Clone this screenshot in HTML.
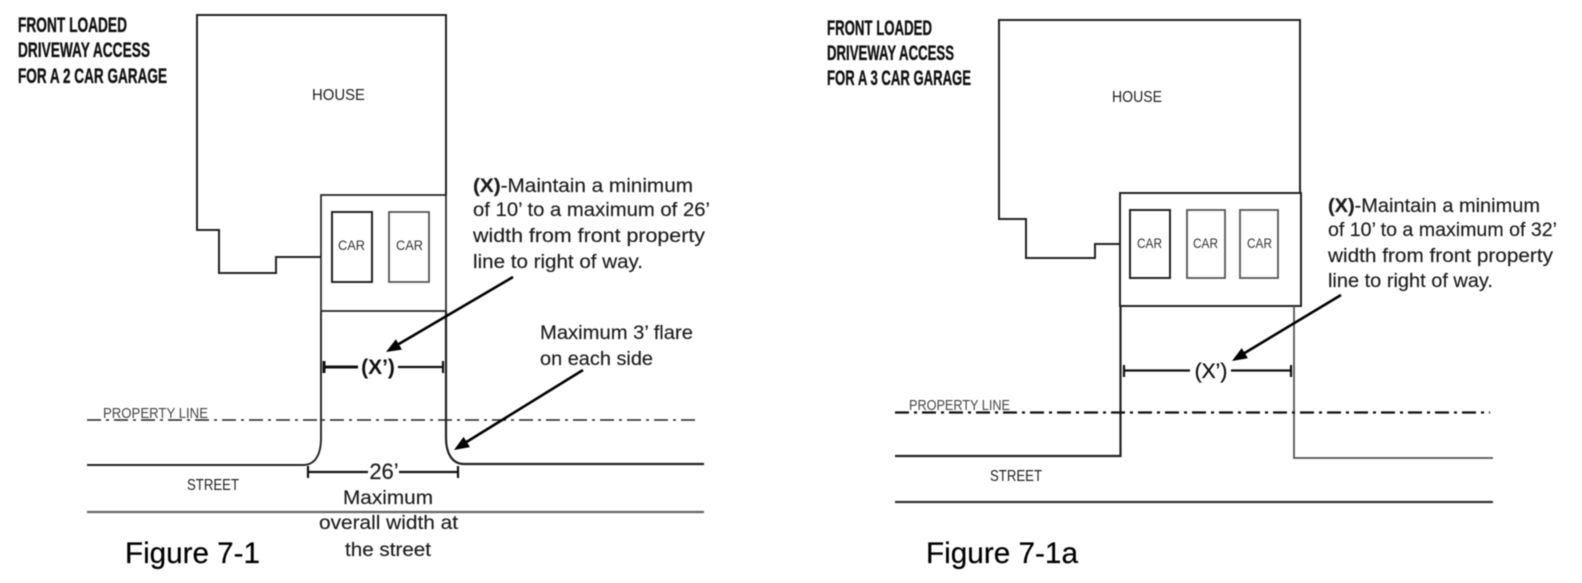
<!DOCTYPE html>
<html lang="en">
<head>
<meta charset="utf-8">
<title>Front loaded driveway access figures</title>
<style>
html,body{margin:0;padding:0;background:#fff;width:1582px;height:583px;overflow:hidden}
svg{display:block;filter:blur(.45px)}
text{font-family:"Liberation Sans",sans-serif;fill:#222}
.t{font-size:21px;font-weight:bold;fill:#111;stroke:#111;stroke-width:.35}
.h{font-size:16px;fill:#222}
.c{font-size:14px;fill:#333}
.s{font-size:16px;fill:#222}
.p{font-size:15px;fill:#444}
.n{font-size:19px;fill:#1c1c1c;stroke:#1c1c1c;stroke-width:.15}
.f{font-size:30px;fill:#000;stroke:#000;stroke-width:.2}
.x{font-size:21px;font-weight:bold;fill:#111}
.l{fill:none;stroke:#222;stroke-width:2}
.g{fill:none;stroke:#555;stroke-width:1.8}
.d{fill:none;stroke:#111;stroke-width:2.2}
.a{stroke:#000;stroke-width:2.6;fill:none}
</style>
</head>
<body>
<svg xmlns="http://www.w3.org/2000/svg" width="1582" height="583" viewBox="0 0 1582 583">
<rect width="1582" height="583" fill="#fff"/>

<!-- LEFT FIGURE -->
<text class="t" x="18" y="32" textLength="109" lengthAdjust="spacingAndGlyphs">FRONT LOADED</text>
<text class="t" x="18" y="57" textLength="132" lengthAdjust="spacingAndGlyphs">DRIVEWAY ACCESS</text>
<text class="t" x="18" y="83" textLength="149" lengthAdjust="spacingAndGlyphs">FOR A 2 CAR GARAGE</text>

<path class="l" d="M321 257H276V273H219V230H197V15H446V195"/>
<path class="l" d="M321 195H446V311H321Z" style="stroke-width:1.7"/>
<rect class="l" x="332" y="212" width="40" height="70"/>
<rect class="g" x="389" y="212" width="40" height="70"/>
<text class="h" x="312" y="100" textLength="53" lengthAdjust="spacingAndGlyphs">HOUSE</text>
<text class="c" x="338" y="250" textLength="27" lengthAdjust="spacingAndGlyphs">CAR</text>
<text class="c" x="396" y="250" textLength="27" lengthAdjust="spacingAndGlyphs">CAR</text>

<path class="l" d="M321 311V438C321 455 315 465 303 465H87" style="stroke-width:1.9"/>
<path class="l" d="M446 311V438C446 453 452 464 464 464H704" style="stroke-width:2.2"/>
<path class="g" d="M87 512H704" style="stroke:#666;stroke-width:2.2"/>
<path d="M87 420H700" fill="none" stroke="#222" stroke-width="1.6" stroke-dasharray="14 5 3 5"/>
<text class="p" x="103" y="418" textLength="105" lengthAdjust="spacingAndGlyphs">PROPERTY LINE</text>

<path class="d" d="M324 361V373M324 367H358" style="stroke-width:3"/>
<path class="d" d="M398 367H443M443 361V373"/>
<text class="x" x="378" y="374" text-anchor="middle">(X’)</text>
<path class="d" d="M308 466V478M308 472H368M399 472H458M458 466V478"/>
<text class="n" x="384" y="479" text-anchor="middle" style="font-size:22px">26’</text>

<path class="a" d="M513 277L392 348"/>
<polygon points="386,352 395.900,339.200 401.900,349.600" fill="#000"/>
<path class="a" d="M583 370L460 446"/>
<polygon points="454,450 463.600,436.900 470,447.100" fill="#000"/>

<text class="n" x="473" y="192" textLength="220" lengthAdjust="spacingAndGlyphs"><tspan font-weight="bold">(X)</tspan>-Maintain a minimum</text>
<text class="n" x="473" y="216" textLength="237" lengthAdjust="spacingAndGlyphs">of 10’ to a maximum of 26’</text>
<text class="n" x="473" y="242" textLength="232" lengthAdjust="spacingAndGlyphs">width from front property</text>
<text class="n" x="473" y="268" textLength="170" lengthAdjust="spacingAndGlyphs">line to right of way.</text>

<text class="n" x="540" y="339" textLength="153" lengthAdjust="spacingAndGlyphs">Maximum 3’ flare</text>
<text class="n" x="540" y="365" textLength="113" lengthAdjust="spacingAndGlyphs">on each side</text>
<text class="n" x="343" y="504" textLength="90" lengthAdjust="spacingAndGlyphs">Maximum</text>
<text class="n" x="319" y="529" textLength="139" lengthAdjust="spacingAndGlyphs">overall width at</text>
<text class="n" x="345" y="556" textLength="86" lengthAdjust="spacingAndGlyphs">the street</text>
<text class="s" x="187" y="490" textLength="52" lengthAdjust="spacingAndGlyphs">STREET</text>
<text class="f" x="125" y="563" textLength="135" lengthAdjust="spacingAndGlyphs">Figure 7-1</text>

<!-- RIGHT FIGURE -->
<text class="t" x="827" y="35" textLength="105" lengthAdjust="spacingAndGlyphs">FRONT LOADED</text>
<text class="t" x="827" y="60" textLength="127" lengthAdjust="spacingAndGlyphs">DRIVEWAY ACCESS</text>
<text class="t" x="827" y="85" textLength="144" lengthAdjust="spacingAndGlyphs">FOR A 3 CAR GARAGE</text>

<path class="l" d="M1120 244H1095V258H1026V219H999V20H1300V193"/>
<rect class="l" x="1120" y="193" width="181" height="113"/>
<rect class="l" x="1130" y="210" width="40" height="68"/>
<rect class="g" x="1187" y="210" width="38" height="68"/>
<rect class="g" x="1240" y="210" width="38" height="68"/>
<text class="h" x="1112" y="102" textLength="50" lengthAdjust="spacingAndGlyphs">HOUSE</text>
<text class="c" x="1137" y="248" textLength="25" lengthAdjust="spacingAndGlyphs">CAR</text>
<text class="c" x="1193" y="248" textLength="25" lengthAdjust="spacingAndGlyphs">CAR</text>
<text class="c" x="1247" y="248" textLength="25" lengthAdjust="spacingAndGlyphs">CAR</text>

<path class="l" d="M895 456H1120.500V306" style="stroke-width:2.2"/>
<path class="g" d="M1294 306V458H1493"/>
<path class="g" d="M895 502H1493" style="stroke:#333;stroke-width:2.2"/>
<path d="M895 412.500H1490" fill="none" stroke="#111" stroke-width="2.2" stroke-dasharray="14 5 3 5"/>
<text class="p" x="909" y="410" textLength="101" lengthAdjust="spacingAndGlyphs">PROPERTY LINE</text>

<path class="d" d="M1124 365V377M1124 370.500H1190M1231 370.500H1291M1291 365V377"/>
<text class="x" x="1211" y="378" text-anchor="middle" style="font-weight:normal;stroke:#111;stroke-width:.3">(X’)</text>

<path class="a" d="M1341 295L1238 357"/>
<polygon points="1232,361 1241.700,348.100 1247.900,358.300" fill="#000"/>

<text class="n" x="1328" y="212" textLength="212" lengthAdjust="spacingAndGlyphs"><tspan font-weight="bold">(X)</tspan>-Maintain a minimum</text>
<text class="n" x="1328" y="236" textLength="229" lengthAdjust="spacingAndGlyphs">of 10’ to a maximum of 32’</text>
<text class="n" x="1328" y="262" textLength="225" lengthAdjust="spacingAndGlyphs">width from front property</text>
<text class="n" x="1328" y="287" textLength="165" lengthAdjust="spacingAndGlyphs">line to right of way.</text>

<text class="s" x="990" y="481" textLength="52" lengthAdjust="spacingAndGlyphs">STREET</text>
<text class="f" x="926" y="563" textLength="152" lengthAdjust="spacingAndGlyphs">Figure 7-1a</text>
</svg>
</body>
</html>
